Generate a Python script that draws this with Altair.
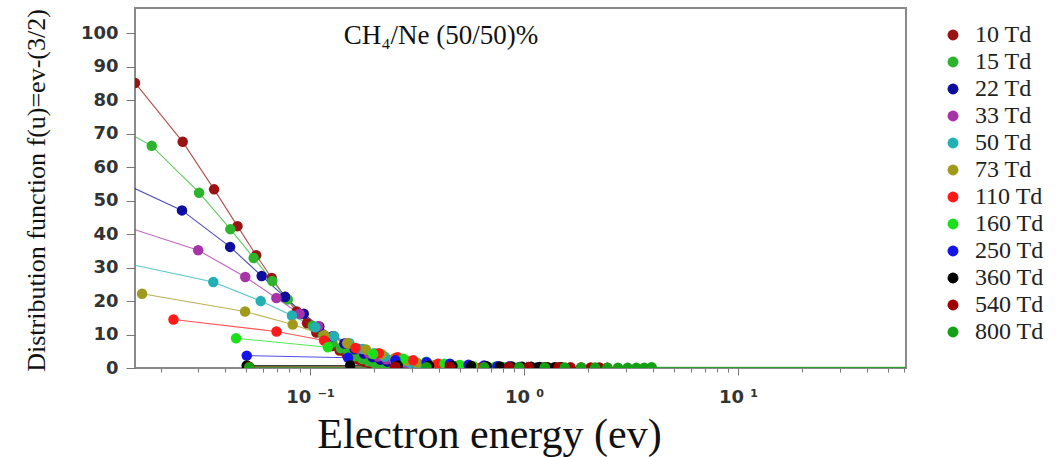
import altair as alt
import pandas as pd

series = ["10 Td", "15 Td", "22 Td", "33 Td", "50 Td", "73 Td",
          "110 Td", "160 Td", "250 Td", "360 Td", "540 Td", "800 Td"]
colors = ["#9b1212", "#2cb52c", "#0e0e9e", "#a832a8", "#22b0b4", "#a09a1c",
          "#ff1a1a", "#1ae01a", "#1414e6", "#000000", "#a00000", "#14a014"]

x_10 = [0.0152, 0.0254, 0.0356, 0.0458, 0.056, 0.0662, 0.0764, 0.0866, 0.0968, 0.107, 0.1172, 0.1274,
        0.1376, 0.1478, 0.158, 0.1682, 0.1784, 0.1886, 0.1988, 0.209, 0.2192, 0.2294, 0.2396, 0.2498]
y_10 = [85.2, 67.6, 53.4, 42.4, 33.7, 26.9, 21.3, 16.9, 13.4, 10.6, 8.4, 6.6,
        5.2, 4.1, 3.2, 2.5, 1.9, 1.5, 1.1, 0.85, 0.65, 0.5, 0.38, 0.29]
x_15 = [0.0061, 0.0182, 0.0303, 0.0424, 0.0545, 0.0666, 0.0787, 0.0908, 0.1029, 0.115, 0.1271, 0.1392,
        0.1513, 0.1634, 0.1755, 0.1876, 0.1997, 0.2118, 0.2239]
y_15 = [83.0, 66.4, 52.4, 41.5, 32.9, 26.0, 20.5, 16.1, 12.6, 9.8, 7.6, 5.9,
        4.6, 3.5, 2.7, 2.0, 1.5, 1.1, 0.8]
x_22 = [0.0082, 0.0252, 0.0423, 0.0594, 0.0764, 0.0935, 0.1105, 0.1276, 0.1446, 0.1617, 0.1788, 0.1958,
        0.2129, 0.23, 0.247, 0.264]
y_22 = [61.5, 47.1, 36.2, 27.5, 21.2, 16.2, 12.4, 9.5, 7.3, 5.6, 4.3, 3.3,
        2.5, 1.9, 1.45, 1.1]
x_33 = [0.0102, 0.03, 0.0498, 0.0696, 0.0894, 0.1092, 0.129, 0.1488, 0.1686, 0.1884, 0.2082, 0.228,
        0.2478, 0.2676, 0.2874, 0.3072]
y_33 = [44.9, 35.2, 27.2, 20.9, 16.2, 12.5, 9.6, 7.4, 5.7, 4.4, 3.4, 2.6,
        2.0, 1.5, 1.15, 0.9]
x_50 = [0.0118, 0.0353, 0.0588, 0.0823, 0.1058, 0.1293, 0.1528, 0.1763, 0.1998, 0.2233, 0.2468, 0.2703,
        0.2938, 0.3173, 0.3408, 0.3643, 0.3878]
y_50 = [32.2, 25.7, 20.0, 15.7, 12.2, 9.5, 7.4, 5.7, 4.4, 3.4, 2.6, 2.0,
        1.55, 1.2, 0.9, 0.7, 0.55]
x_73 = [0.0164, 0.0497, 0.083, 0.1163, 0.1496, 0.1829, 0.2162, 0.2495, 0.2828, 0.3161, 0.3494, 0.3827,
        0.416, 0.4493, 0.4826]
y_73 = [22.2, 16.9, 13.0, 9.8, 7.4, 5.5, 4.1, 3.0, 2.2, 1.6, 1.2, 0.9,
        0.65, 0.5, 0.37]
x_110 = [0.023, 0.0697, 0.1164, 0.1631, 0.2098, 0.2565, 0.3032, 0.3499, 0.3966, 0.4433, 0.49, 0.5367,
         0.5834, 0.6301, 0.6768]
y_110 = [14.5, 10.9, 8.2, 6.0, 4.4, 3.2, 2.3, 1.7, 1.25, 0.9, 0.66, 0.48,
         0.35, 0.26, 0.19]
x_160 = [0.0451, 0.1211, 0.1971, 0.2731, 0.3491, 0.4251, 0.5011, 0.5771, 0.6531, 0.7291, 0.8051, 0.8811,
         0.9571]
y_160 = [8.9, 6.2, 4.2, 2.8, 1.9, 1.3, 0.9, 0.62, 0.43, 0.3, 0.21, 0.15, 0.1]
x_250 = [0.0506, 0.1506, 0.2506, 0.3506, 0.4506, 0.5506, 0.6506, 0.7506, 0.8506, 0.9506, 1.0506, 1.1506,
         1.2506]
y_250 = [3.7, 3.05, 2.3, 1.75, 1.3, 1.0, 0.75, 0.56, 0.42, 0.32, 0.24, 0.18, 0.14]
x_360 = [0.0506, 0.154, 0.257, 0.36, 0.463, 0.566, 0.669, 0.772, 0.875, 0.978, 1.081, 1.184,
         1.287, 1.39, 1.493]
y_360 = [0.75, 0.75, 0.72, 0.68, 0.63, 0.58, 0.53, 0.48, 0.43, 0.38, 0.34, 0.3,
         0.26, 0.23, 0.2]
x_540 = [0.052, 0.25, 0.45, 0.65, 0.85, 1.05, 1.25, 1.45, 1.65, 1.85, 2.05, 2.25, 2.45]
y_540 = [0.4, 0.38, 0.36, 0.33, 0.3, 0.27, 0.24, 0.21, 0.19, 0.17, 0.15, 0.13, 0.11]
x_800 = [0.052, 0.35, 0.65, 0.95, 1.25, 1.55, 1.85, 2.15, 2.45, 2.75, 3.05, 3.35, 3.65, 3.95, 100.0]
y_800 = [0.25, 0.24, 0.22, 0.2, 0.18, 0.16, 0.14, 0.12, 0.1, 0.08, 0.07, 0.06, 0.05, 0.2, 0.2]

xs_all = [x_10, x_15, x_22, x_33, x_50, x_73, x_110, x_160, x_250, x_360, x_540, x_800]
ys_all = [y_10, y_15, y_22, y_33, y_50, y_73, y_110, y_160, y_250, y_360, y_540, y_800]

y_ticks = [0, 10, 20, 30, 40, 50, 60, 70, 80, 90, 100]
x_ticks = [m * d for d in (0.01, 0.1, 1, 10) for m in range(1, 10) if 0.0152 <= m * d <= 61]

annotation = "CH\u2084/Ne (50/50)%"

rows = []
for name, xs, ys in zip(series, xs_all, ys_all):
    for i, (a, b) in enumerate(zip(xs, ys)):
        rows.append({"series": name, "energy": a, "f": b, "i": i})
df = pd.DataFrame(rows)

color_scale = alt.Scale(domain=series, range=colors)
x_scale = alt.Scale(type="log", domain=[0.0152, 61], nice=False)
y_scale = alt.Scale(domain=[0, 107.6], nice=False)

is_decade = "abs(log(datum.value)/LN10 - round(log(datum.value)/LN10)) < 0.001"
label_expr = (is_decade + " ? "
              "(round(log(datum.value)/LN10) == -1 ? '10 \u207b\u00b9' : "
              "round(log(datum.value)/LN10) == 0 ? '10 \u2070' : "
              "round(log(datum.value)/LN10) == 1 ? '10 \u00b9' : '') : ''")

x_axis = alt.Axis(
    values=x_ticks, labelExpr=label_expr, labelOverlap=False, grid=False,
    domain=False, ticks=True, tickColor="#777", tickWidth=1,
    tickSize={"condition": {"test": is_decade, "value": 7}, "value": 4},
    labelFont="DejaVu Sans", labelFontSize=18, labelFontWeight="bold", labelColor="#333",
    labelPadding=13, labelBaseline="top",
    title="Electron energy (ev)", titleFont="Liberation Serif", titleFontSize=42,
    titleFontWeight="normal", titleColor="#111", titleX=354, titleY=66,
    titleBaseline="middle", titleAlign="center",
)
y_axis = alt.Axis(
    values=y_ticks, grid=False, domain=False, ticks=True, tickColor="#777", tickSize=9,
    tickWidth=1, labelOverlap=False,
    labelFont="DejaVu Sans", labelFontSize=18, labelFontWeight="bold", labelColor="#333",
    labelPadding=8,
    title="Distribution function  f(u)=ev-(3/2)", titleFont="Liberation Serif",
    titleFontSize=26, titleFontWeight="normal", titleColor="#111",
    titleX=-99, titleY=182, titleAngle=270, titleBaseline="middle", titleAlign="center",
)

base = alt.Chart(df)
lines = base.mark_line(strokeWidth=1.1, opacity=0.75, clip=True).encode(
    x=alt.X("energy:Q", scale=x_scale, axis=x_axis),
    y=alt.Y("f:Q", scale=y_scale, axis=y_axis),
    color=alt.Color("series:N", scale=color_scale, legend=None),
    detail="series:N",
    order="i:Q",
)
points = base.mark_point(filled=True, shape="circle", size=110, opacity=1, clip=True).encode(
    x=alt.X("energy:Q", scale=x_scale, axis=x_axis),
    y=alt.Y("f:Q", scale=y_scale, axis=y_axis),
    color=alt.Color("series:N", scale=color_scale, sort=series,
                    legend=alt.Legend(title=None, orient="none", legendX=806, legendY=15,
                                      symbolType="circle", symbolSize=120, symbolStrokeWidth=0,
                                      labelFont="Liberation Serif", labelFontSize=24,
                                      labelFontWeight="normal",
                                      labelColor="#222", labelOffset=10, rowPadding=3,
                                      padding=0)),
)
note = alt.Chart(pd.DataFrame({"t": [annotation]})).mark_text(
    font="Liberation Serif", fontSize=27, color="#111", align="center", baseline="middle"
).encode(text="t:N", x=alt.value(306), y=alt.value(28))

chart = alt.layer(lines, points, note).resolve_legend(color="independent").properties(
    width=771, height=360,
    autosize=alt.AutoSizeParams(type="none"),
    padding={"left": 135, "top": 8, "right": 158, "bottom": 89},
    background="white",
).configure_view(stroke="#8a8a8a", strokeWidth=2).configure_legend(
    labelFont="Liberation Serif", labelFontSize=24
)

chart.save("out.html", embed_options={"renderer": "svg", "actions": False})
